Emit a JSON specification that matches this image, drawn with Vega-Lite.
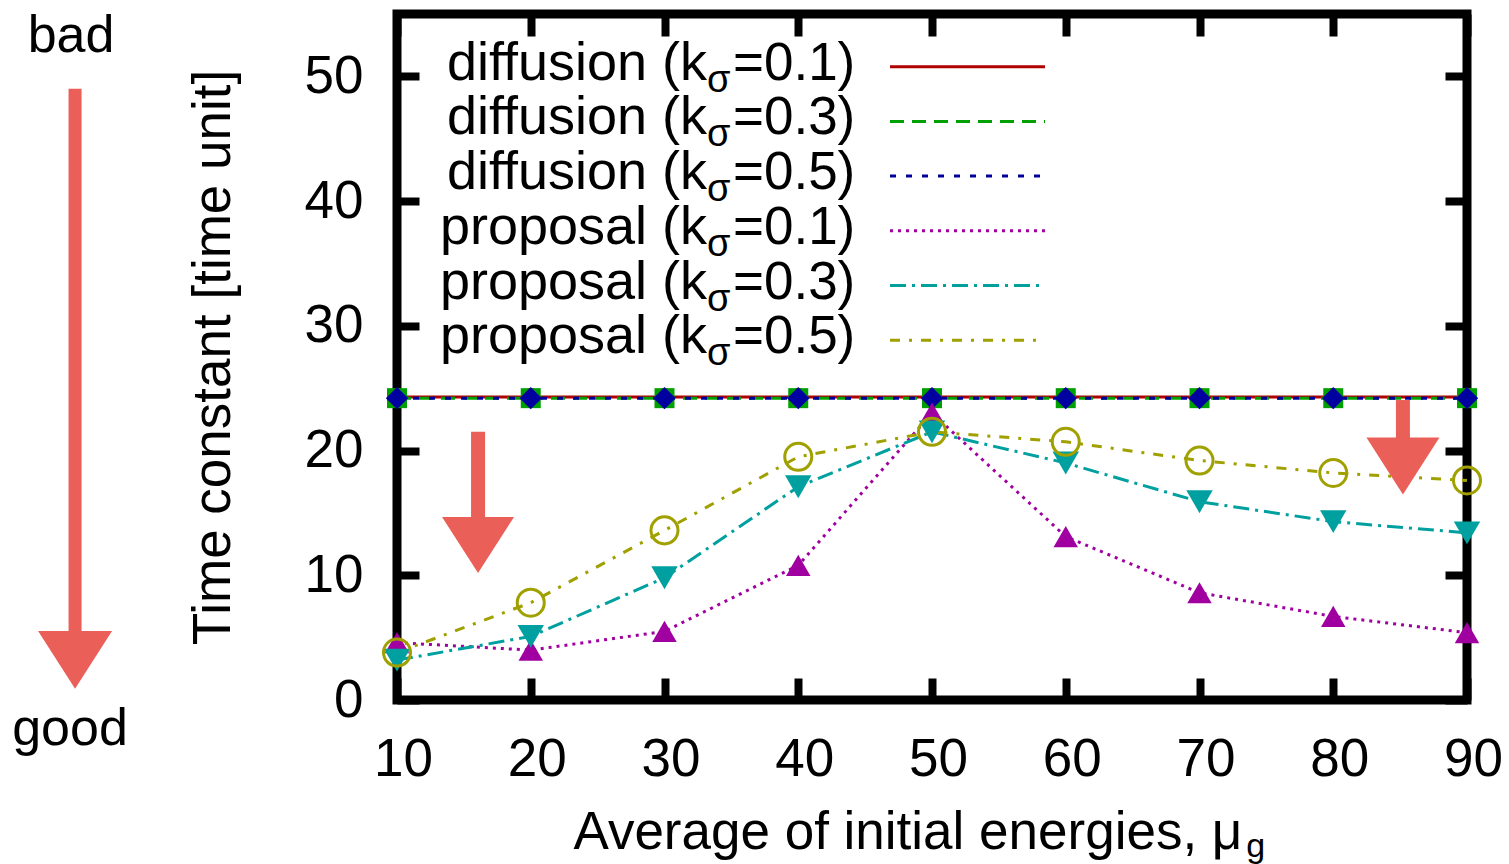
{
  "$schema": "https://vega.github.io/schema/vega-lite/v6.json",
  "width": 1070,
  "height": 686,
  "autosize": {"type": "none"},
  "padding": {"left": 397, "top": 14, "right": 42, "bottom": 164},
  "background": "white",
  "config": {
    "view": {"stroke": "black", "strokeWidth": 9},
    "font": "Liberation Sans",
    "axis": {
      "grid": false, "domain": false, "ticks": true,
      "tickColor": "black", "tickWidth": 8, "tickSize": -22,
      "labelFont": "Liberation Sans", "labelFontSize": 53, "labelColor": "black",
      "titleFont": "Liberation Sans", "titleFontSize": 53, "titleFontWeight": "normal", "titleColor": "black",
      "labelOverlap": false, "labelFlush": false
    }
  },
  "resolve": {"scale": {"y": "independent"}, "axis": {"x": "independent", "y": "independent"}},
  "datasets": {
    "curves": [
      {"series": "diffusion 0.1", "x": 10, "y": 24.3}, {"series": "diffusion 0.1", "x": 20, "y": 24.3}, {"series": "diffusion 0.1", "x": 30, "y": 24.3},
      {"series": "diffusion 0.1", "x": 40, "y": 24.3}, {"series": "diffusion 0.1", "x": 50, "y": 24.3}, {"series": "diffusion 0.1", "x": 60, "y": 24.3},
      {"series": "diffusion 0.1", "x": 70, "y": 24.3}, {"series": "diffusion 0.1", "x": 80, "y": 24.3}, {"series": "diffusion 0.1", "x": 90, "y": 24.3},
      {"series": "diffusion 0.3", "x": 10, "y": 24.2}, {"series": "diffusion 0.3", "x": 20, "y": 24.2}, {"series": "diffusion 0.3", "x": 30, "y": 24.2},
      {"series": "diffusion 0.3", "x": 40, "y": 24.2}, {"series": "diffusion 0.3", "x": 50, "y": 24.2}, {"series": "diffusion 0.3", "x": 60, "y": 24.2},
      {"series": "diffusion 0.3", "x": 70, "y": 24.2}, {"series": "diffusion 0.3", "x": 80, "y": 24.2}, {"series": "diffusion 0.3", "x": 90, "y": 24.2},
      {"series": "diffusion 0.5", "x": 10, "y": 24.2}, {"series": "diffusion 0.5", "x": 20, "y": 24.2}, {"series": "diffusion 0.5", "x": 30, "y": 24.2},
      {"series": "diffusion 0.5", "x": 40, "y": 24.2}, {"series": "diffusion 0.5", "x": 50, "y": 24.2}, {"series": "diffusion 0.5", "x": 60, "y": 24.2},
      {"series": "diffusion 0.5", "x": 70, "y": 24.2}, {"series": "diffusion 0.5", "x": 80, "y": 24.2}, {"series": "diffusion 0.5", "x": 90, "y": 24.2},
      {"series": "proposal 0.1", "x": 10, "y": 4.6}, {"series": "proposal 0.1", "x": 20, "y": 4.0}, {"series": "proposal 0.1", "x": 30, "y": 5.5},
      {"series": "proposal 0.1", "x": 40, "y": 10.8}, {"series": "proposal 0.1", "x": 50, "y": 23.0}, {"series": "proposal 0.1", "x": 60, "y": 13.1},
      {"series": "proposal 0.1", "x": 70, "y": 8.6}, {"series": "proposal 0.1", "x": 80, "y": 6.7}, {"series": "proposal 0.1", "x": 90, "y": 5.4},
      {"series": "proposal 0.3", "x": 10, "y": 3.2}, {"series": "proposal 0.3", "x": 20, "y": 5.1}, {"series": "proposal 0.3", "x": 30, "y": 9.8},
      {"series": "proposal 0.3", "x": 40, "y": 17.1}, {"series": "proposal 0.3", "x": 50, "y": 21.5}, {"series": "proposal 0.3", "x": 60, "y": 19.0},
      {"series": "proposal 0.3", "x": 70, "y": 15.9}, {"series": "proposal 0.3", "x": 80, "y": 14.3}, {"series": "proposal 0.3", "x": 90, "y": 13.4},
      {"series": "proposal 0.5", "x": 10, "y": 3.8}, {"series": "proposal 0.5", "x": 20, "y": 7.8}, {"series": "proposal 0.5", "x": 30, "y": 13.6},
      {"series": "proposal 0.5", "x": 40, "y": 19.5}, {"series": "proposal 0.5", "x": 50, "y": 21.5}, {"series": "proposal 0.5", "x": 60, "y": 20.7},
      {"series": "proposal 0.5", "x": 70, "y": 19.2}, {"series": "proposal 0.5", "x": 80, "y": 18.2}, {"series": "proposal 0.5", "x": 90, "y": 17.6}
    ],
    "legend": [
      {"series": "diffusion 0.1", "pre": "diffusion (k", "sub": "σ", "post": "=0.1)"},
      {"series": "diffusion 0.3", "pre": "diffusion (k", "sub": "σ", "post": "=0.3)"},
      {"series": "diffusion 0.5", "pre": "diffusion (k", "sub": "σ", "post": "=0.5)"},
      {"series": "proposal 0.1", "pre": "proposal (k", "sub": "σ", "post": "=0.1)"},
      {"series": "proposal 0.3", "pre": "proposal (k", "sub": "σ", "post": "=0.3)"},
      {"series": "proposal 0.5", "pre": "proposal (k", "sub": "σ", "post": "=0.5)"}
    ]
  },
  "layer": [
    {
      "resolve": {"axis": {"x": "independent", "y": "independent"}},
      "layer": [
        {
          "data": {"name": "curves"},
          "mark": {"type": "line", "strokeWidth": 3},
          "encoding": {
            "x": {"field": "x", "type": "quantitative",
                  "scale": {"domain": [10, 90], "nice": false, "zero": false},
                  "axis": {"orient": "bottom", "values": [10, 20, 30, 40, 50, 60, 70, 80, 90], "labelPadding": 55, "labelOffset": 6,
                           "title": "Average of initial energies, μ", "titlePadding": 20, "titleAnchor": "start", "titleAlign": "left", "titleX": 176}},
            "y": {"field": "y", "type": "quantitative",
                  "scale": {"domain": [0, 55], "nice": false, "zero": false},
                  "axis": {"orient": "left", "values": [0, 10, 20, 30, 40, 50], "labelPadding": 56,
                           "title": "Time constant [time unit]", "titlePadding": 64}},
            "color": {"field": "series", "type": "nominal",
                      "scale": {"domain": ["diffusion 0.1", "diffusion 0.3", "diffusion 0.5", "proposal 0.1", "proposal 0.3", "proposal 0.5"],
                                "range": ["#b00000", "#00a000", "#0000a0", "#a000a0", "#00a0a0", "#a0a000"]},
                      "legend": null},
            "strokeDash": {"field": "series", "type": "nominal",
                           "scale": {"domain": ["diffusion 0.1", "diffusion 0.3", "diffusion 0.5", "proposal 0.1", "proposal 0.3", "proposal 0.5"],
                                     "range": [[1, 0], [14, 8], [6, 10], [3, 5], [16, 6, 3, 6], [10, 9, 3, 9]]},
                           "legend": null}
          }
        },
        {
          "data": {"name": "curves"},
          "transform": [{"filter": "datum.series !== 'proposal 0.5'"}],
          "mark": {"type": "point", "filled": true, "opacity": 1},
          "encoding": {
            "x": {"field": "x", "type": "quantitative", "axis": null},
            "y": {"field": "y", "type": "quantitative", "axis": null},
            "color": {"field": "series", "type": "nominal", "legend": null},
            "shape": {"field": "series", "type": "nominal",
                      "scale": {"domain": ["diffusion 0.1", "diffusion 0.3", "diffusion 0.5", "proposal 0.1", "proposal 0.3", "proposal 0.5"],
                                "range": ["cross", "square", "diamond", "triangle-up", "triangle-down", "circle"]},
                      "legend": null},
            "size": {"field": "series", "type": "nominal",
                     "scale": {"domain": ["diffusion 0.1", "diffusion 0.3", "diffusion 0.5", "proposal 0.1", "proposal 0.3", "proposal 0.5"],
                               "range": [300, 800, 430, 700, 700, 730]},
                     "legend": null}
          }
        },
        {
          "data": {"name": "curves"},
          "transform": [{"filter": "datum.series === 'proposal 0.5'"}],
          "mark": {"type": "point", "shape": "circle", "filled": false, "size": 730, "strokeWidth": 3, "opacity": 1, "color": "#a0a000"},
          "encoding": {
            "x": {"field": "x", "type": "quantitative",
                  "axis": {"orient": "top", "values": [10, 20, 30, 40, 50, 60, 70, 80, 90], "labels": false, "title": null}},
            "y": {"field": "y", "type": "quantitative",
                  "axis": {"orient": "right", "values": [0, 10, 20, 30, 40, 50], "labels": false, "title": null}}
          }
        },
        {
          "data": {"values": [{}]},
          "mark": {"type": "text", "align": "left", "baseline": "alphabetic", "fontSize": 34, "font": "Liberation Sans", "color": "black", "text": "g"},
          "encoding": {
            "x": {"datum": 73.5, "type": "quantitative", "axis": null},
            "y": {"datum": -12.6, "type": "quantitative", "axis": null}
          }
        },
        {
          "data": {"values": [{}]},
          "mark": {"type": "text", "align": "center", "baseline": "alphabetic", "fontSize": 52, "font": "Liberation Sans", "color": "black", "text": "bad"},
          "encoding": {
            "x": {"datum": -14.37, "type": "quantitative", "axis": null},
            "y": {"datum": 51.95, "type": "quantitative", "axis": null}
          }
        },
        {
          "data": {"values": [{}]},
          "mark": {"type": "text", "align": "center", "baseline": "alphabetic", "fontSize": 52, "font": "Liberation Sans", "color": "black", "text": "good"},
          "encoding": {
            "x": {"datum": -14.45, "type": "quantitative", "axis": null},
            "y": {"datum": -3.61, "type": "quantitative", "axis": null}
          }
        },
        {
          "data": {"values": [{}]},
          "mark": {"type": "rule", "strokeWidth": 13, "color": "#eb5f59"},
          "encoding": {
            "x": {"datum": -14.07, "type": "quantitative", "axis": null},
            "y": {"datum": 49.0, "type": "quantitative", "axis": null},
            "y2": {"datum": 5.2}
          }
        },
        {
          "data": {"values": [{}]},
          "mark": {"type": "point", "shape": "M-1,-0.78L1,-0.78L0,0.78Z", "filled": true, "opacity": 1, "size": 5476, "color": "#eb5f59"},
          "encoding": {
            "x": {"datum": -14.07, "type": "quantitative", "axis": null},
            "y": {"datum": 3.21, "type": "quantitative", "axis": null}
          }
        },
        {
          "data": {"values": [{}]},
          "mark": {"type": "rule", "strokeWidth": 14, "color": "#eb5f59"},
          "encoding": {
            "x": {"datum": 16.06, "type": "quantitative", "axis": null},
            "y": {"datum": 21.5, "type": "quantitative", "axis": null},
            "y2": {"datum": 14.5}
          }
        },
        {
          "data": {"values": [{}]},
          "mark": {"type": "point", "shape": "M-1,-0.78L1,-0.78L0,0.78Z", "filled": true, "opacity": 1, "size": 5184, "color": "#eb5f59"},
          "encoding": {
            "x": {"datum": 16.06, "type": "quantitative", "axis": null},
            "y": {"datum": 12.43, "type": "quantitative", "axis": null}
          }
        },
        {
          "data": {"values": [{}]},
          "mark": {"type": "rule", "strokeWidth": 14, "color": "#eb5f59"},
          "encoding": {
            "x": {"datum": 85.21, "type": "quantitative", "axis": null},
            "y": {"datum": 24.05, "type": "quantitative", "axis": null},
            "y2": {"datum": 20.85}
          }
        },
        {
          "data": {"values": [{}]},
          "mark": {"type": "point", "shape": "M-1,-0.78L1,-0.78L0,0.78Z", "filled": true, "opacity": 1, "size": 5329, "color": "#eb5f59"},
          "encoding": {
            "x": {"datum": 85.21, "type": "quantitative", "axis": null},
            "y": {"datum": 18.76, "type": "quantitative", "axis": null}
          }
        }
      ]
    },
    {
      "data": {"name": "legend"},
      "encoding": {
        "y": {"field": "series", "type": "nominal", "axis": null,
              "scale": {"type": "point", "domain": ["diffusion 0.1", "diffusion 0.3", "diffusion 0.5", "proposal 0.1", "proposal 0.3", "proposal 0.5"],
                        "range": [52.7, 326.2], "padding": 0}}
      },
      "layer": [
        {
          "mark": {"type": "rule", "strokeWidth": 3},
          "encoding": {
            "x": {"datum": 46.86, "type": "quantitative", "axis": null},
            "x2": {"datum": 58.45},
            "color": {"field": "series", "type": "nominal", "legend": null},
            "strokeDash": {"field": "series", "type": "nominal", "legend": null}
          }
        },
        {
          "mark": {"type": "text", "align": "right", "baseline": "alphabetic", "dy": 13, "fontSize": 54, "font": "Liberation Sans", "color": "black"},
          "encoding": {
            "x": {"datum": 33.18, "type": "quantitative", "axis": null},
            "text": {"field": "pre"}
          }
        },
        {
          "mark": {"type": "text", "align": "left", "baseline": "alphabetic", "dy": 25, "dx": 0, "fontSize": 38, "font": "Liberation Sans", "color": "black"},
          "encoding": {
            "x": {"datum": 33.18, "type": "quantitative", "axis": null},
            "text": {"field": "sub"}
          }
        },
        {
          "mark": {"type": "text", "align": "left", "baseline": "alphabetic", "dy": 13, "fontSize": 53, "font": "Liberation Sans", "color": "black"},
          "encoding": {
            "x": {"datum": 35.12, "type": "quantitative", "axis": null},
            "text": {"field": "post"}
          }
        }
      ]
    }
  ]
}
